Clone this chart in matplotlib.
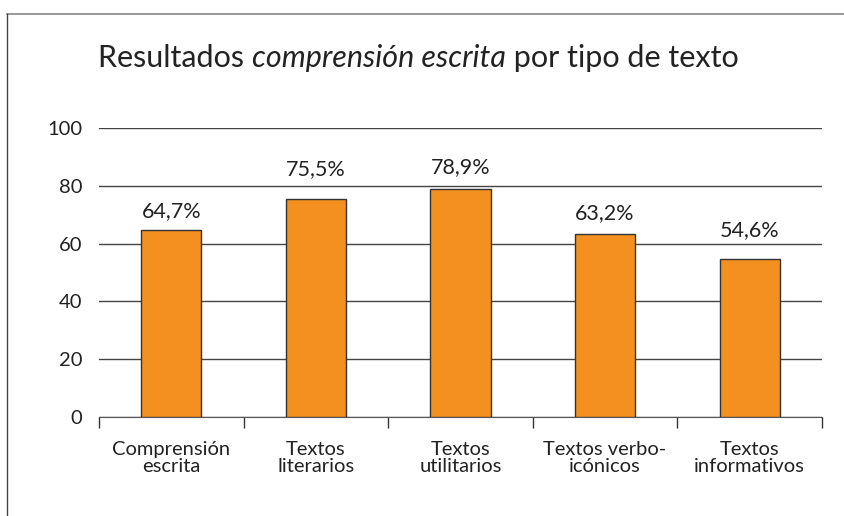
import matplotlib.pyplot as plt
from matplotlib.lines import Line2D

categories = ['Comprensión\nescrita', 'Textos\nliterarios', 'Textos\nutilitarios',
              'Textos verbo-\nicónicos', 'Textos\ninformativos']
values = [64.7, 75.5, 78.9, 63.2, 54.6]
labels = ['64,7%', '75,5%', '78,9%', '63,2%', '54,6%']
yticks = [0, 20, 40, 60, 80, 100]

# gap between bar top and label baseline (in data units), labels dodge the grid lines
label_gap = [4.5, 8.3, 5.5, 5.2, 8.0]

plt.rcParams['font.family'] = ['Lato', 'DejaVu Sans']

fig = plt.figure(figsize=(8.45, 5.16), dpi=100)
ax = fig.add_axes([99/845, 1 - 417/516, (822-99)/845, (417-128)/516])

x = list(range(len(values)))
ax.bar(x, values, width=0.415, color='#F39020', edgecolor='#333333', linewidth=1, zorder=3)
for xi, v, lab, g in zip(x, values, labels, label_gap):
    ax.text(xi, v + g, lab, ha='center', va='baseline', fontsize=15.5, color='#222222')

ax.set_ylim(0, 100)
ax.set_xlim(-0.5, len(values) - 0.5)
ax.set_yticks(yticks)
ax.set_yticklabels([str(t) for t in yticks], fontsize=14.5, color='#222222')
ax.yaxis.grid(True, color='#444444', linewidth=1)
ax.set_axisbelow(True)
ax.tick_params(axis='y', length=0, pad=12)

ax.set_xticks(x)
ax.set_xticklabels(categories, fontsize=14.5, color='#222222', linespacing=1.0)
ax.set_xticks([i - 0.5 for i in range(len(values) + 1)], minor=True)
ax.tick_params(axis='x', which='major', length=0, pad=17)
ax.tick_params(axis='x', which='minor', length=8, width=1, color='#333333')

for s in ['top', 'right', 'left']:
    ax.spines[s].set_visible(False)
ax.spines['bottom'].set_color('#555555')

# title with italic part
fig.canvas.draw()
r = fig.canvas.get_renderer()
tx = 98 / 845
ty = 1 - 67 / 516
parts = [('Resultados ', 'normal'), ('comprensión escrita', 'italic'), (' por tipo de texto', 'normal')]
for txt, style in parts:
    t = fig.text(tx, ty, txt, fontsize=22, style=style, color='#222222', ha='left', va='baseline')
    bb = t.get_window_extent(renderer=r)
    tx += bb.width / fig.bbox.width

# frame lines
fig.add_artist(Line2D([7/845, 1], [1 - 14/516, 1 - 14/516], color='#888888', linewidth=1.2))
fig.add_artist(Line2D([7/845, 7/845], [0, 1 - 14/516], color='#444444', linewidth=1))

fig.savefig('out.png', dpi=100)
